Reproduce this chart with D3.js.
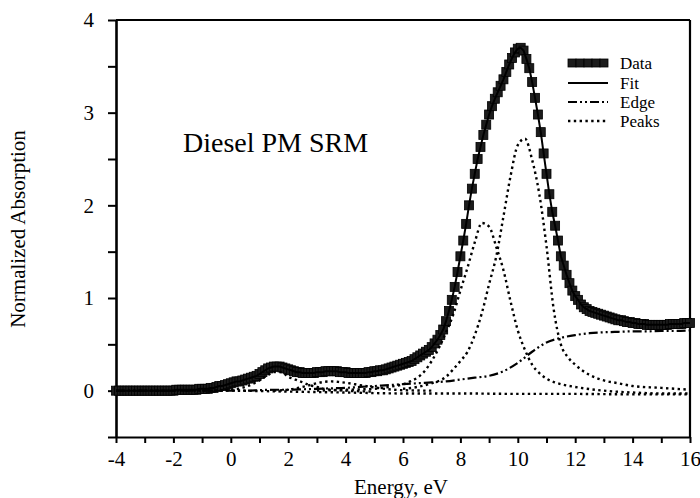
<!DOCTYPE html>
<html>
<head>
<meta charset="utf-8">
<script src="https://cdn.jsdelivr.net/npm/d3@7"></script>
<style>
body { margin: 0; background: #fff; }
svg text { font-family: "Liberation Serif", "Times New Roman", serif; fill: #000; }
</style>
</head>
<body>
<div id="chart"></div>
<script>
//////////////////////////////
// DATA
//////////////////////////////

// measured spectrum, one point every 0.1 eV
const dataEnergy = [
	-4,-3.9,-3.8,-3.7,-3.6,-3.5,-3.4,-3.3,-3.2,-3.1,
	-3,-2.9,-2.8,-2.7,-2.6,-2.5,-2.4,-2.3,-2.2,-2.1,
	-2,-1.9,-1.8,-1.7,-1.6,-1.5,-1.4,-1.3,-1.2,-1.1,
	-1,-0.9,-0.8,-0.7,-0.6,-0.5,-0.4,-0.3,-0.2,-0.1,
	0,0.1,0.2,0.3,0.4,0.5,0.6,0.7,0.8,0.9,
	1,1.1,1.2,1.3,1.4,1.5,1.6,1.7,1.8,1.9,
	2,2.1,2.2,2.3,2.4,2.5,2.6,2.7,2.8,2.9,
	3,3.1,3.2,3.3,3.4,3.5,3.6,3.7,3.8,3.9,
	4,4.1,4.2,4.3,4.4,4.5,4.6,4.7,4.8,4.9,
	5,5.1,5.2,5.3,5.4,5.5,5.6,5.7,5.8,5.9,
	6,6.1,6.2,6.3,6.4,6.5,6.6,6.7,6.8,6.9,
	7,7.1,7.2,7.3,7.4,7.5,7.6,7.7,7.8,7.9,
	8,8.1,8.2,8.3,8.4,8.5,8.6,8.7,8.8,8.9,
	9,9.1,9.2,9.3,9.4,9.5,9.6,9.7,9.8,9.9,
	10,10.1,10.2,10.3,10.4,10.5,10.6,10.7,10.8,10.9,
	11,11.1,11.2,11.3,11.4,11.5,11.6,11.7,11.8,11.9,
	12,12.1,12.2,12.3,12.4,12.5,12.6,12.7,12.8,12.9,
	13,13.1,13.2,13.3,13.4,13.5,13.6,13.7,13.8,13.9,
	14,14.1,14.2,14.3,14.4,14.5,14.6,14.7,14.8,14.9,
	15,15.1,15.2,15.3,15.4,15.5,15.6,15.7,15.8,15.9,
	16
]
const dataValues = [
	0,0,0,0,0,0,0,0,0,0,
	0,0,0,0,0,0,0,0,0,0,
	0,0.01,0.01,0.01,0.01,0.01,0.01,0.01,0.01,0.02,
	0.02,0.02,0.02,0.03,0.03,0.04,0.05,0.05,0.06,0.07,
	0.08,0.09,0.10,0.10,0.11,0.12,0.13,0.14,0.15,0.16,
	0.18,0.20,0.22,0.24,0.25,0.26,0.26,0.26,0.25,0.24,
	0.23,0.22,0.21,0.20,0.20,0.19,0.19,0.19,0.19,0.19,
	0.20,0.20,0.20,0.21,0.21,0.21,0.21,0.21,0.20,0.20,
	0.20,0.19,0.19,0.19,0.19,0.19,0.19,0.19,0.20,0.20,
	0.21,0.21,0.22,0.22,0.23,0.24,0.25,0.26,0.27,0.28,
	0.29,0.30,0.31,0.32,0.34,0.36,0.38,0.40,0.42,0.44,
	0.47,0.51,0.55,0.60,0.66,0.75,0.86,0.98,1.12,1.28,
	1.45,1.62,1.80,2.00,2.18,2.34,2.50,2.63,2.76,2.87,
	2.98,3.07,3.15,3.22,3.29,3.36,3.44,3.52,3.59,3.65,
	3.69,3.70,3.67,3.58,3.48,3.33,3.16,2.98,2.79,2.56,
	2.34,2.12,1.93,1.78,1.62,1.45,1.35,1.25,1.16,1.08,
	1.02,0.98,0.93,0.90,0.88,0.86,0.85,0.84,0.83,0.82,
	0.81,0.80,0.79,0.78,0.77,0.76,0.76,0.75,0.74,0.74,
	0.73,0.73,0.72,0.72,0.72,0.71,0.71,0.71,0.71,0.71,
	0.71,0.71,0.71,0.72,0.72,0.72,0.72,0.72,0.73,0.73,
	0.73
]

// fit follows the data points
const fitEnergy = dataEnergy
const fitValues = dataValues

// edge step
const edgeEnergy = [-4,-3,-2,-1,0,0.5,1,1.5,2,2.5,3,3.5,4,4.5,5,5.5,6,6.5,7,7.5,8,8.5,9,9.5,10,10.5,11,11.5,12,12.5,13,13.5,14,14.5,15,15.5,16]
const edgeValues = [0,0,0,0,0,0,0.005,0.01,0.01,0.015,0.02,0.025,0.03,0.04,0.05,0.06,0.07,0.08,0.09,0.10,0.12,0.14,0.16,0.21,0.30,0.42,0.52,0.57,0.60,0.62,0.63,0.635,0.64,0.64,0.645,0.645,0.65]

// peak components
const peak1Energy = [-1,-0.5,0,0.25,0.5,0.75,1,1.25,1.5,1.75,2,2.25,2.5,2.75,3,3.25,3.5,4,5]
const peak1Values = [0,0,0.01,0.02,0.04,0.07,0.11,0.16,0.20,0.20,0.15,0.12,0.09,0.06,0.04,0.02,0.01,0,-0.01]

const peak2Energy = [1.5,2,2.5,2.75,3,3.25,3.5,3.75,4,4.5,5,5.5,6,7]
const peak2Values = [0,0.01,0.04,0.06,0.08,0.095,0.10,0.095,0.085,0.06,0.035,0.015,0.005,0]

const peak3Energy = [3,4,5,5.5,6,6.25,6.5,6.75,7,7.25,7.5,7.75,8,8.25,8.5,8.75,9,9.25,9.5,9.75,10,10.25,10.5,10.75,11,11.5,12,13,14,15,16]
const peak3Values = [0,0.01,0.02,0.04,0.07,0.10,0.14,0.21,0.32,0.46,0.63,0.82,1.08,1.33,1.60,1.81,1.77,1.55,1.30,0.96,0.65,0.44,0.28,0.19,0.13,0.07,0.04,0,-0.02,-0.03,-0.03]

const peak4Energy = [6,6.5,7,7.5,7.75,8,8.25,8.5,8.75,9,9.25,9.5,9.75,10,10.25,10.5,10.75,11,11.25,11.5,11.75,12,12.5,13,13.5,14,15,16]
const peak4Values = [0.02,0.04,0.08,0.15,0.23,0.32,0.42,0.60,0.84,1.15,1.45,1.88,2.32,2.65,2.72,2.49,2.12,1.56,0.88,0.50,0.36,0.28,0.17,0.11,0.08,0.05,0.03,0.01]

const baseEnergy = [-4,0,2,4,6,8,10,12,14,16]
const baseValues = [0,0,-0.01,-0.02,-0.03,-0.03,-0.035,-0.035,-0.04,-0.04]

const xTickValues = [-4,-3,-2,-1,0,1,2,3,4,5,6,7,8,9,10,11,12,13,14,15,16]
const yTickValues = [-0.5,0,0.5,1,1.5,2,2.5,3,3.5,4]
const legendLabels = ["Data", "Fit", "Edge", "Peaks"]

const zip = (xs, ys) => xs.map((d, i) => [d, ys[i]])

//////////////////////////////
// CHART
//////////////////////////////

const drawChart = () => {

	let width = 700
	let height = 498

	let x = d3.scaleLinear().domain([-4, 16]).range([116, 690])
	let y = d3.scaleLinear().domain([-0.5, 4]).range([437, 20])

	let svg = d3.select("#chart").append("svg").attr("width", width).attr("height", height)

	let line = d3.line().x(d => x(d[0])).y(d => y(d[1]))
	let smooth = d3.line().x(d => x(d[0])).y(d => y(d[1])).curve(d3.curveMonotoneX)

	// frame
	svg.append("line").attr("x1", x(-4)).attr("x2", x(16)).attr("y1", y(4)).attr("y2", y(4))
		.attr("stroke", "#000").attr("stroke-width", 2)
	svg.append("line").attr("x1", x(16)).attr("x2", x(16)).attr("y1", y(4)).attr("y2", y(-0.5))
		.attr("stroke", "#000").attr("stroke-width", 2.2)

	let xAxis = svg.append("g").attr("transform", "translate(0," + y(-0.5) + ")")
		.call(d3.axisBottom(x).tickValues(xTickValues).tickSize(6).tickSizeOuter(0).tickPadding(8)
			.tickFormat(d => d % 2 === 0 ? String(d) : ""))
	xAxis.select(".domain").attr("stroke-width", 2.2)
	xAxis.selectAll(".tick line").attr("stroke-width", 2)
	xAxis.selectAll("text").attr("font-size", 21).attr("font-family", null)

	let yAxis = svg.append("g").attr("transform", "translate(" + x(-4) + ",0)")
		.call(d3.axisLeft(y).tickValues(yTickValues).tickSize(8).tickSizeOuter(0).tickPadding(14)
			.tickFormat(d => Number.isInteger(d) ? String(d) : ""))
	yAxis.select(".domain").attr("stroke-width", 2.6)
	yAxis.selectAll(".tick line").attr("stroke-width", 2)
	yAxis.selectAll("text").attr("font-size", 21).attr("font-family", null)

	// titles
	svg.append("text").attr("x", 401).attr("y", 494).attr("text-anchor", "middle")
		.attr("font-size", 21).text("Energy, eV")
	svg.append("text").attr("transform", "translate(25,229) rotate(-90)").attr("text-anchor", "middle")
		.attr("font-size", 21).text("Normalized Absorption")
	svg.append("text").attr("x", 183).attr("y", 152).attr("font-size", 28).text("Diesel PM SRM")

	// data squares
	svg.append("g").selectAll("rect").data(zip(dataEnergy, dataValues)).enter().append("rect")
		.attr("x", d => x(d[0]) - 4.5).attr("y", d => y(d[1]) - 4.5)
		.attr("width", 9).attr("height", 9)
		.attr("fill", "#1c1c1c").attr("stroke", "#000").attr("stroke-width", 0.8)

	// fit
	svg.append("path").attr("d", line(zip(fitEnergy, fitValues)))
		.attr("fill", "none").attr("stroke", "#000").attr("stroke-width", 2)

	// edge
	svg.append("path").attr("d", smooth(zip(edgeEnergy, edgeValues)))
		.attr("fill", "none").attr("stroke", "#000").attr("stroke-width", 2.2)
		.attr("stroke-dasharray", "9,3,2,3,2,3")

	// peaks
	let peaks = [
		zip(peak1Energy, peak1Values),
		zip(peak2Energy, peak2Values),
		zip(peak3Energy, peak3Values),
		zip(peak4Energy, peak4Values),
		zip(baseEnergy, baseValues)
	]
	svg.append("g").selectAll("path").data(peaks).enter().append("path")
		.attr("d", smooth)
		.attr("fill", "none").attr("stroke", "#000").attr("stroke-width", 2.4)
		.attr("stroke-dasharray", "2.4,3.4")

	// legend
	let legend = svg.append("g")
	let rowY = [63, 83, 102, 121]
	legendLabels.forEach((label, i) => {
		legend.append("text").attr("x", 620).attr("y", rowY[i] + 6).attr("font-size", 17).text(label)
	})
	legend.append("line").attr("x1", 568).attr("x2", 608).attr("y1", rowY[0]).attr("y2", rowY[0])
		.attr("stroke", "#000").attr("stroke-width", 4)
	legend.selectAll("rect").data([572, 580, 588, 596, 604]).enter().append("rect")
		.attr("x", d => d - 4).attr("y", rowY[0] - 4).attr("width", 8).attr("height", 8)
		.attr("fill", "#1c1c1c").attr("stroke", "#000").attr("stroke-width", 0.8)
	legend.append("line").attr("x1", 568).attr("x2", 608).attr("y1", rowY[1]).attr("y2", rowY[1])
		.attr("stroke", "#000").attr("stroke-width", 2)
	legend.append("line").attr("x1", 568).attr("x2", 608).attr("y1", rowY[2]).attr("y2", rowY[2])
		.attr("stroke", "#000").attr("stroke-width", 2.2).attr("stroke-dasharray", "9,3,2,3,2,3")
	legend.append("line").attr("x1", 568).attr("x2", 608).attr("y1", rowY[3]).attr("y2", rowY[3])
		.attr("stroke", "#000").attr("stroke-width", 2.4).attr("stroke-dasharray", "2.4,3.4")
}

drawChart()
</script>
</body>
</html>
